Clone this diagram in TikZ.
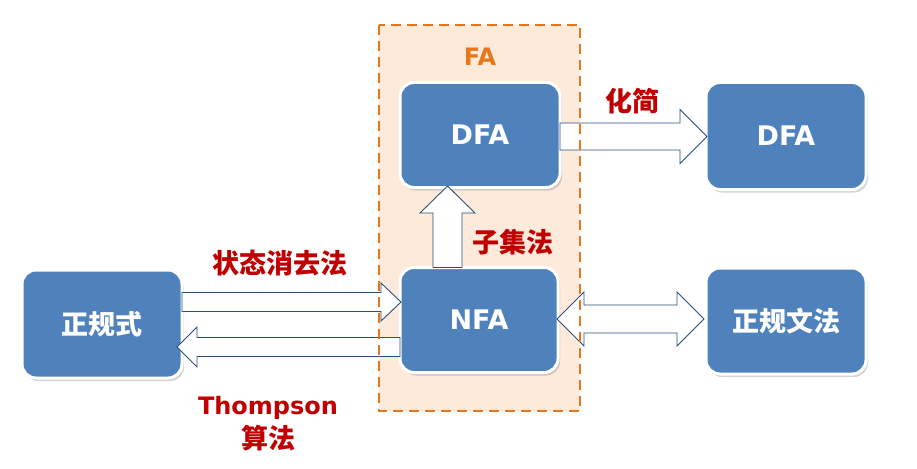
\documentclass[tikz,border=0pt]{standalone}
\usepackage{fontspec}
\newfontfamily\cjk{Noto Sans CJK SC}
\newfontfamily\lat{DejaVu Sans}
\usetikzlibrary{calc,shadows}
\definecolor{boxblue}{HTML}{4F81BD}
\definecolor{lblred}{HTML}{C00000}
\definecolor{faorange}{HTML}{E8761B}
\definecolor{fafill}{HTML}{FDEADA}
\definecolor{arrline}{HTML}{2A4F7C}
\tikzset{
  bluebox/.style={draw=white, line width=3pt, fill=boxblue, rounded corners=14pt,
    outer sep=0pt, text=white, font=\cjk\bfseries\fontsize{27}{30}\selectfont,
    drop shadow={opacity=0.35, shadow xshift=2pt, shadow yshift=-3pt}},
  latbox/.style={font=\lat\bfseries\fontsize{27}{30}\selectfont},
  redlbl/.style={text=lblred, font=\cjk\bfseries\fontsize{27}{30}\selectfont, inner sep=0pt},
  latlbl/.style={font=\lat\bfseries\fontsize{24}{28}\selectfont},
  blockarr/.style={draw=arrline, fill=white, line width=0.9pt, line join=miter},
}
% \blockarrow{tail}{tip}{shaft half width}{head half width}{head length}
\newcommand{\blockarrow}[5]{%
  \coordinate (ba-b) at ($(#2)!#5pt!(#1)$);
  \draw[blockarr] ($(#1)!#3pt!90:(#2)$) -- ($(ba-b)!#3pt!-90:(#1)$) -- ($(ba-b)!#4pt!-90:(#1)$)
    -- (#2) -- ($(ba-b)!#4pt!90:(#1)$) -- ($(ba-b)!#3pt!90:(#1)$) -- ($(#1)!#3pt!-90:(#2)$) -- cycle;}
% \dblarrow{tip1}{tip2}{shaft half}{head half}{head length}
\newcommand{\dblarrow}[5]{%
  \coordinate (da-a) at ($(#1)!#5pt!(#2)$);
  \coordinate (da-b) at ($(#2)!#5pt!(#1)$);
  \draw[blockarr] (#1) -- ($(da-a)!#4pt!90:(#2)$) -- ($(da-a)!#3pt!90:(#2)$) -- ($(da-b)!#3pt!-90:(#1)$)
    -- ($(da-b)!#4pt!-90:(#1)$) -- (#2) -- ($(da-b)!#4pt!90:(#1)$) -- ($(da-b)!#3pt!90:(#1)$)
    -- ($(da-a)!#3pt!-90:(#2)$) -- ($(da-a)!#4pt!-90:(#2)$) -- cycle;}
\begin{document}
\begin{tikzpicture}[x=1pt,y=-1pt]
\useasboundingbox (0,0) rectangle (917,468);
% FA region
\fill[fafill] (379,25) rectangle (580,411);
\node[text=faorange, font=\lat\bfseries\fontsize{24}{28}\selectfont] (falbl) at (480,57) {FA};
% boxes
\node[bluebox, minimum width=160pt, minimum height=108pt] (re) at (102,324) {正规式};
\node[bluebox, latbox, minimum width=158pt, minimum height=105pt] (nfa) at (479,320) {NFA};
\node[bluebox, latbox, minimum width=160pt, minimum height=105pt] (dfa) at (480,135) {DFA};
\node[bluebox, latbox, minimum width=160pt, minimum height=107pt] (dfa2) at (786,136) {DFA};
\node[bluebox, minimum width=160pt, minimum height=106pt] (gram) at (786,321) {正规文法};
% arrow end points
\coordinate (a1t) at ($(re.east)+(0,-22)$);
\coordinate (a1p) at ($(nfa.west)+(1,-18)$);
\coordinate (a2t) at ($(nfa.west)+(0,27)$);
\coordinate (a2p) at ($(re.east)+(-5,23)$);
\coordinate (a3t) at ($(dfa.east)+(0,1.5)$);
\coordinate (a3p) at ($(dfa2.west)+(1,0.5)$);
\coordinate (a4a) at ($(nfa.east)+(-1,-1)$);
\coordinate (a4b) at ($(gram.west)+(-2,-2)$);
\coordinate (a5t) at ($(nfa.north)+(-31.5,0)$);
\coordinate (a5p) at ($(dfa.south)+(-32.5,-1.5)$);
\blockarrow{a1t}{a1p}{9.5}{19}{20}
\blockarrow{a2t}{a2p}{9.5}{20}{20}
\blockarrow{a3t}{a3p}{13.5}{27}{27}
\dblarrow{a4a}{a4b}{14}{27}{27}
\blockarrow{a5t}{a5p}{14.5}{27.5}{27}
% FA border on top
\draw[faorange, line width=2.5pt, dash pattern=on 10pt off 6pt] (379,25) rectangle (580,411);
% labels
\node[redlbl] (l1) at (280,263) {状态消去法};
\node[redlbl] (l2) at (632,101) {化简};
\node[redlbl] (l3) at (513,242) {子集法};
\node[redlbl, latlbl] (l4) at (268,408) {Thompson};
\node[redlbl] (l5) at (268,438) {算法};
\end{tikzpicture}
\end{document}
